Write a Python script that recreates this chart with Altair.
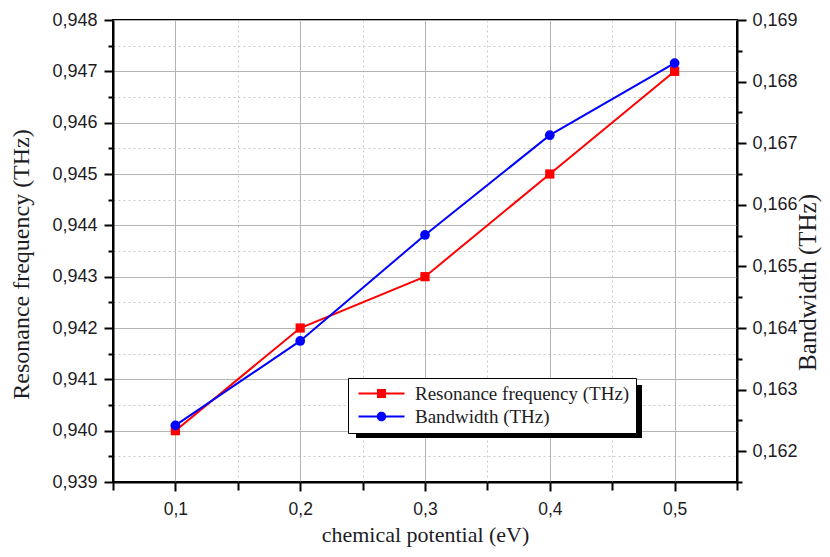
import altair as alt
import pandas as pd

# ---- data ----
potential = [0.1, 0.2, 0.3, 0.4, 0.5]
resonance = [0.940, 0.942, 0.943, 0.945, 0.947]
bandwidth = [0.16242, 0.16379, 0.16551, 0.16713, 0.16830]
series_names = ["Resonance frequency (THz)", "Bandwidth (THz)"]
series_colors = ["#ff0000", "#0000ff"]

x_major = [0.1, 0.2, 0.3, 0.4, 0.5]
x_minor = [0.05, 0.15, 0.25, 0.35, 0.45, 0.55]
left_major = [0.939, 0.940, 0.941, 0.942, 0.943, 0.944, 0.945, 0.946, 0.947, 0.948]
left_minor = [0.9395, 0.9405, 0.9415, 0.9425, 0.9435, 0.9445, 0.9455, 0.9465, 0.9475]
right_major = [0.162, 0.163, 0.164, 0.165, 0.166, 0.167, 0.168, 0.169]
right_minor = [0.1615, 0.1625, 0.1635, 0.1645, 0.1655, 0.1665, 0.1675, 0.1685]

x_domain = [0.05, 0.55]
left_domain = [0.939, 0.948]
right_domain = [0.1615, 0.169]

rows = []
for p, r in zip(potential, resonance):
    rows.append({"potential": p, "value": r, "series": series_names[0]})
for p, b in zip(potential, bandwidth):
    rows.append({"potential": p, "value": b, "series": series_names[1]})
df = pd.DataFrame(rows)

W, H = 624, 462
LABEL_FONT = "Liberation Sans"
TITLE_FONT = "Liberation Serif"
TXT = "#1c1c24"

fmt3 = "replace(format(datum.value, '.3f'), '.', ',')"
fmt1 = "replace(format(datum.value, '.1f'), '.', ',')"

xs = alt.Scale(domain=x_domain, nice=False, zero=False)
ls = alt.Scale(domain=left_domain, nice=False, zero=False)
rs = alt.Scale(domain=right_domain, nice=False, zero=False)

res_df = df[df.series == series_names[0]]
bw_df = df[df.series == series_names[1]]

# legend symbols: line segment + marker
sq_path = "M-4.6,-0.2H4.6V0.2H-4.6ZM-0.9,-0.9H0.9V0.9H-0.9Z"
ci_path = ("M-4.6,-0.2H4.6V0.2H-4.6Z"
           "M-0.95,0A0.95,0.95 0 1,1 0.95,0A0.95,0.95 0 1,1 -0.95,0Z")

legend = alt.Legend(
    orient="none", legendX=235, legendY=358, title=None,
    fillColor="white", strokeColor="black", padding=6,
    labelFont=TITLE_FONT, labelFontSize=19, labelColor=TXT,
    labelLimit=500, symbolSize=100, symbolOpacity=1,
    symbolOffset=18, labelOffset=24, rowPadding=3,
)

color_scale = alt.Scale(domain=series_names, range=series_colors)

# minor ticks + dotted grid (left / bottom)
minor_lb = alt.Chart(res_df).mark_point(opacity=0).encode(
    x=alt.X("potential:Q", scale=xs, axis=alt.Axis(
        orient="bottom", values=x_minor, labels=False, title=None, domain=False,
        tickSize=8, tickWidth=2, tickColor="black",
        grid=True, gridDash=[2, 3], gridColor="#c8c8c8", gridWidth=1)),
    y=alt.Y("value:Q", scale=ls, axis=alt.Axis(
        orient="left", values=left_minor, labels=False, title=None, domain=False,
        tickSize=5, tickWidth=2, tickColor="black",
        grid=True, gridDash=[2, 3], gridColor="#c8c8c8", gridWidth=1)),
)

# minor ticks right
minor_r = alt.Chart(bw_df).mark_point(opacity=0).encode(
    x=alt.X("potential:Q", scale=xs, axis=None),
    y=alt.Y("value:Q", scale=rs, axis=alt.Axis(
        orient="right", values=right_minor, labels=False, title=None, domain=False,
        tickSize=5, tickWidth=2, tickColor="black", grid=False)),
)

res_line = alt.Chart(res_df).mark_line(
    strokeWidth=2, color=series_colors[0],
    point=alt.OverlayMarkDef(shape="square", filled=True, size=85, opacity=1,
                             color=series_colors[0]),
).encode(
    x=alt.X("potential:Q", scale=xs, axis=alt.Axis(
        orient="bottom", values=x_major, labelExpr=fmt1,
        title="chemical potential (eV)",
        titleFont=TITLE_FONT, titleFontSize=22, titleFontWeight="normal", titleColor=TXT,
        titlePadding=7,
        labelFont=LABEL_FONT, labelFontSize=17.5, labelColor=TXT, labelPadding=9,
        domain=True, domainColor="black", domainWidth=2,
        tickSize=9, tickWidth=2, tickColor="black",
        grid=True, gridColor="#b4b4b4", gridWidth=1)),
    y=alt.Y("value:Q", scale=ls, axis=alt.Axis(
        orient="left", values=left_major, labelExpr=fmt3,
        title="Resonance frequency (THz)",
        titleFont=TITLE_FONT, titleFontSize=24, titleFontWeight="normal", titleColor=TXT,
        titlePadding=18, titleY=244,
        labelFont=LABEL_FONT, labelFontSize=18, labelColor=TXT, labelPadding=7,
        domain=True, domainColor="black", domainWidth=2,
        tickSize=9, tickWidth=2, tickColor="black",
        grid=True, gridColor="#b4b4b4", gridWidth=1)),
)

bw_line = alt.Chart(bw_df).mark_line(
    strokeWidth=2, color=series_colors[1],
    point=alt.OverlayMarkDef(shape="circle", filled=True, size=95, opacity=1,
                             color=series_colors[1]),
).encode(
    x=alt.X("potential:Q", scale=xs, axis=None),
    y=alt.Y("value:Q", scale=rs, axis=alt.Axis(
        orient="right", values=right_major, labelExpr=fmt3,
        title="Bandwidth (THz)", titleAngle=270, titleBaseline="top",
        titleFont=TITLE_FONT, titleFontSize=25, titleFontWeight="normal", titleColor=TXT,
        titleX=58, titleY=262,
        labelFont=LABEL_FONT, labelFontSize=18, labelColor=TXT, labelPadding=6,
        domain=True, domainColor="black", domainWidth=2,
        tickSize=9, tickWidth=2, tickColor="black", grid=False)),
)

# legend carrier: draws nothing (filtered empty), only produces the legend
legend_layer = alt.Chart(df).transform_filter("datum.value < 0").mark_point(
    filled=True, opacity=1, size=100
).encode(
    color=alt.Color("series:N", scale=color_scale, legend=legend),
    shape=alt.Shape("series:N", scale=alt.Scale(domain=series_names, range=[sq_path, ci_path]),
                    legend=legend),
)

# legend drop shadow (decoration)
shadow = alt.Chart(pd.DataFrame({"k": [0]})).mark_rect(color="black").encode(
    x=alt.value(243), x2=alt.value(529), y=alt.value(365), y2=alt.value(418),
)

chart = alt.layer(minor_lb, minor_r, res_line, bw_line, shadow, legend_layer).resolve_scale(
    x="independent", y="independent"
).properties(
    width=W, height=H,
    autosize=alt.AutoSizeParams(type="none"),
    padding={"left": 105, "top": 12, "right": 85, "bottom": 67},
).configure_view(
    stroke="black", strokeWidth=2
)

chart.save("out.html", embed_options={"renderer": "svg", "actions": False})
